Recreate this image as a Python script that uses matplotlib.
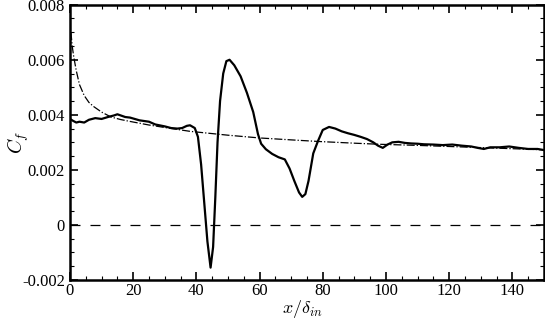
import numpy as np
import matplotlib
matplotlib.use("Agg")
import matplotlib.pyplot as plt
from matplotlib.ticker import MultipleLocator

plt.rcParams['font.family'] = ['Liberation Serif', 'DejaVu Serif']
plt.rcParams['mathtext.fontset'] = 'cm'

# skin friction from the simulation (solid)
x_sim = [0, 1, 2, 3, 4.5, 6, 8, 10, 12, 14, 15, 16, 17.5, 19, 22, 25, 27, 30, 32, 34,
         35.5, 37, 38, 39.5, 40.5, 41.5, 42.5, 43.5, 44.5, 45.3, 46, 46.7, 47.5, 48.5,
         49.5, 50.5, 52, 54, 56, 58, 59.5, 60.5, 62, 64, 66, 68, 69.5, 71, 72.5, 73.5,
         74.5, 75.5, 77, 78.5, 80, 82, 84, 86, 88, 90, 92, 94, 96, 97.5, 99, 100.5, 102,
         104, 106, 108, 110, 112, 115, 118, 121, 124, 127, 129, 131, 133, 136, 139,
         142, 145, 148, 150]
cf_sim = [0.00385, 0.00378, 0.00372, 0.00375, 0.00372, 0.00382, 0.00388, 0.00385,
          0.00392, 0.00398, 0.00402, 0.00398, 0.00392, 0.00390, 0.00380, 0.00375,
          0.00365, 0.00358, 0.00352, 0.00350, 0.00352, 0.00360, 0.00362, 0.00352,
          0.00320, 0.00220, 0.00080, -0.00060, -0.00155, -0.00080, 0.00100, 0.00300,
          0.00450, 0.00550, 0.00595, 0.00600, 0.00580, 0.00540, 0.00480, 0.00410,
          0.00330, 0.00295, 0.00275, 0.00258, 0.00246, 0.00238, 0.00205, 0.00160,
          0.00118, 0.00102, 0.00112, 0.00160, 0.00260, 0.00305, 0.00345, 0.00356,
          0.00350, 0.00340, 0.00333, 0.00327, 0.00320, 0.00312, 0.00300, 0.00288,
          0.00280, 0.00292, 0.00300, 0.00302, 0.00298, 0.00296, 0.00295, 0.00293,
          0.00292, 0.00290, 0.00292, 0.00288, 0.00285, 0.00280, 0.00276, 0.00282,
          0.00282, 0.00285, 0.00280, 0.00276, 0.00276, 0.00272]

# turbulent flat plate correlation (dash-dot)
x_ref = [0.3, 0.7, 1.2, 2, 3, 4.5, 6, 7.5, 10, 13, 16, 19, 25, 30, 38, 50, 60, 70, 79,
         90, 98, 110, 120, 130, 140, 150]
cf_ref = [0.0070, 0.0065, 0.0061, 0.0056, 0.0051, 0.0047, 0.00445, 0.00430, 0.00410,
          0.00392, 0.00383, 0.00376, 0.00363, 0.00354, 0.00340, 0.00326, 0.00316,
          0.00309, 0.00303, 0.00297, 0.00293, 0.00289, 0.00285, 0.00281, 0.00277,
          0.00273]

fig = plt.figure(figsize=(5.45, 3.22), dpi=100)
ax = fig.add_axes([0.1284, 0.1304, 0.8696, 0.855])

ax.plot(x_sim, cf_sim, 'k-', linewidth=1.6)
ax.plot(x_ref, cf_ref, 'k-.', linewidth=0.9)
ax.axhline(0, color='k', linestyle=(0, (8, 8)), linewidth=0.9)

ax.set_xlim(0, 150)
ax.set_ylim(-0.002, 0.008)
ax.xaxis.set_major_locator(MultipleLocator(20))
ax.xaxis.set_minor_locator(MultipleLocator(5))
ax.yaxis.set_minor_locator(MultipleLocator(0.0005))
ax.set_yticks([-0.002, 0, 0.002, 0.004, 0.006, 0.008])
ax.set_yticklabels(['-0.002', '0', '0.002', '0.004', '0.006', '0.008'])
ax.tick_params(which='both', direction='in', top=True, right=True, labelsize=12)
ax.tick_params(axis='x', pad=2)
ax.tick_params(which='major', length=6, width=1.2)
ax.tick_params(which='minor', length=3, width=0.8)
for s in ax.spines.values():
    s.set_linewidth(1.8)

ax.set_xlabel(r'$x/\delta_{in}$', fontsize=13)
ax.set_ylabel(r'$C_f$', fontsize=14)
ax.xaxis.set_label_coords(0.49, -0.064)
ax.yaxis.set_label_coords(-0.082, 0.5)

fig.savefig('out.png', dpi=100)
